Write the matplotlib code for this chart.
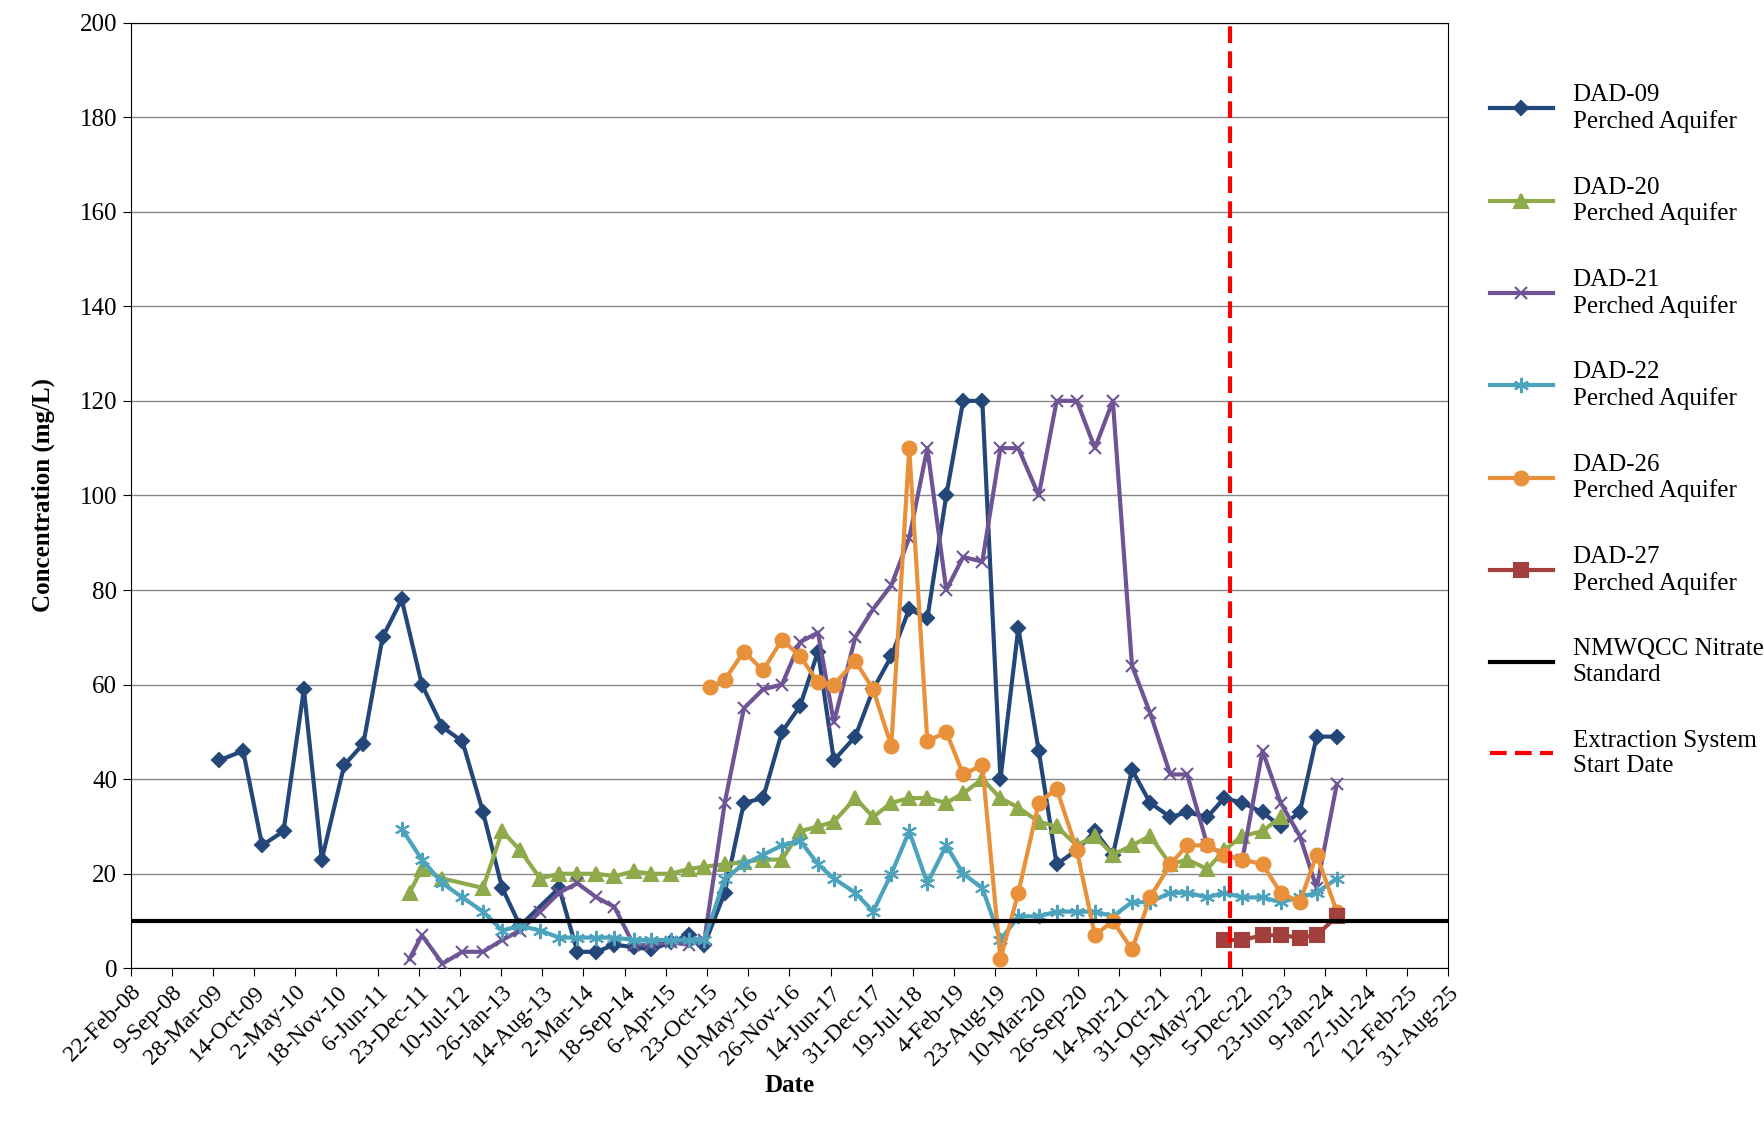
import datetime as dt
import matplotlib.pyplot as plt
from matplotlib.lines import Line2D
from matplotlib.ticker import FixedLocator, FuncFormatter

plt.rcParams['font.family'] = ['Liberation Serif', 'DejaVu Serif']

# dates are days after 22-Feb-2008
base = dt.date(2008, 2, 22)

d09_days = [432, 547, 639, 743, 842, 929, 1038, 1131, 1224, 1317, 1415, 1515, 1612, 1712, 1805, 1892,
            2082, 2170, 2263, 2350, 2443, 2530, 2623, 2711, 2787, 2886, 2979, 3072, 3164, 3252, 3339,
            3416, 3520, 3607, 3695, 3782, 3870, 3962, 4044, 4137, 4225, 4312, 4411, 4498, 4596, 4684,
            4771, 4864, 4952, 5050, 5132, 5230, 5312, 5400, 5498, 5586, 5679, 5761, 5859]
d09_vals = [44, 46, 26, 29, 59, 23, 43, 47.5, 70, 78, 60, 51, 48, 33, 17, 9,
            17, 3.5, 3.5, 5, 4.5, 4, 5.5, 7, 5, 16, 35, 36, 50, 55.5, 67,
            44, 49, 59, 66, 76, 74, 100, 120, 120, 40, 72, 46, 22, 25, 29,
            24, 42, 35, 32, 33, 32, 36, 35, 33, 30, 33, 49, 49]

d20_days = [1355, 1415, 1515, 1712, 1805, 1892, 1989, 2082, 2170, 2263, 2350, 2443, 2530, 2623, 2711,
            2787, 2886, 2979, 3072, 3164, 3252, 3339, 3416, 3520, 3607, 3695, 3782, 3870, 3962, 4044,
            4137, 4225, 4312, 4411, 4498, 4596, 4684, 4771, 4864, 4952, 5050, 5132, 5230, 5312, 5400,
            5498, 5586]
d20_vals = [16, 21, 19, 17, 29, 25, 19, 20, 20, 20, 19.5, 20.5, 20, 20, 21,
            21.5, 22, 22.5, 23, 23, 29, 30, 31, 36, 32, 35, 36, 36, 35, 37,
            40, 36, 34, 31, 30, 26, 28, 24, 26, 28, 22, 23, 21, 25, 28,
            29, 32]

d21_days = [1355, 1415, 1515, 1612, 1712, 1805, 1892, 1989, 2082, 2170, 2263, 2350, 2443, 2530, 2623,
            2711, 2787, 2886, 2979, 3072, 3164, 3252, 3339, 3416, 3520, 3607, 3695, 3782, 3870, 3962,
            4044, 4137, 4225, 4312, 4411, 4498, 4596, 4684, 4771, 4864, 4952, 5050, 5132, 5230, 5312,
            5400, 5498, 5586, 5679, 5761, 5859]
d21_vals = [2, 7, 1, 3.5, 3.5, 6, 8, 12, 16, 18, 15, 13, 5, 5, 5.5,
            5, 6, 35, 55, 59, 60, 69, 71, 52, 70, 76, 81, 91, 110, 80,
            87, 86, 110, 110, 100, 120, 120, 110, 120, 64, 54, 41, 41, 26, 24,
            23, 46, 35, 28, 17, 39]

d22_days = [1317, 1415, 1515, 1612, 1712, 1805, 1892, 1989, 2082, 2170, 2263, 2350, 2443, 2530, 2623,
            2711, 2787, 2886, 2979, 3072, 3164, 3252, 3339, 3416, 3520, 3607, 3695, 3782, 3870, 3962,
            4044, 4137, 4225, 4312, 4411, 4498, 4596, 4684, 4771, 4864, 4952, 5050, 5132, 5230, 5312,
            5400, 5498, 5586, 5679, 5761, 5859]
d22_vals = [29.5, 23, 18, 15, 12, 8, 9, 8, 6.5, 6.5, 6.5, 6.5, 6, 6, 6,
            6, 6, 19, 22, 24, 26, 27, 22, 19, 16, 12, 20, 29, 18, 26,
            20, 17, 6, 11, 11, 12, 12, 12, 11, 14, 14, 16, 16, 15, 16,
            15, 15, 14, 15, 16, 19]

d26_days = [2815, 2886, 2979, 3072, 3164, 3252, 3339, 3416, 3520, 3607, 3695, 3782, 3870, 3962, 4044,
            4137, 4225, 4312, 4411, 4498, 4596, 4684, 4771, 4864, 4952, 5050, 5132, 5230, 5312, 5400,
            5498, 5586, 5679, 5761, 5859]
d26_vals = [59.5, 61, 67, 63, 69.5, 66, 60.5, 60, 65, 59, 47, 110, 48, 50, 41,
            43, 2, 16, 35, 38, 25, 7, 10, 4, 15, 22, 26, 26, 24, 23,
            22, 16, 14, 24, 12]

d27_days = [5312, 5400, 5498, 5586, 5679, 5761, 5859]
d27_vals = [6, 6, 7, 7, 6.5, 7, 11]

standard = 10
start_day = 5340

series = [
    ('DAD-09', d09_days, d09_vals, '#24477A', 'D', 7),
    ('DAD-20', d20_days, d20_vals, '#8FAA4A', '^', 10),
    ('DAD-21', d21_days, d21_vals, '#6E5494', 'x', 9),
    ('DAD-22', d22_days, d22_vals, '#4BA3BD', (6, 2, 0), 11),
    ('DAD-26', d26_days, d26_vals, '#E8913A', 'o', 10),
    ('DAD-27', d27_days, d27_vals, '#A33F3C', 's', 10),
]

fig = plt.figure(figsize=(17.64, 11.26), dpi=100)
ax = fig.add_axes([0.074, 0.14, 0.747, 0.84])

handles = []
for name, xs, ys, col, mk, ms in series:
    ax.plot(xs, ys, color=col, lw=3, marker=mk, ms=ms, mew=1.5, zorder=3)
    handles.append(Line2D([], [], color=col, lw=3, marker=mk, ms=ms, mew=1.5))

ax.axhline(standard, color='black', lw=3, zorder=4)
ax.axvline(start_day, color='#FF0000', lw=3, ls=(0, (4, 2)), zorder=5)
handles.append(Line2D([], [], color='black', lw=3))
handles.append(Line2D([], [], color='#FF0000', lw=3, ls=(0, (4, 2))))
labels = [s[0] + '\nPerched Aquifer' for s in series] + ['NMWQCC Nitrate\nStandard',
                                                         'Extraction System\nStart Date']

ax.set_xlim(0, 6400)
ax.set_ylim(0, 200)
ax.set_yticks(range(0, 201, 20))
ax.grid(axis='y', color='#888888', lw=1)
ax.set_axisbelow(True)
ax.xaxis.set_major_locator(FixedLocator(range(0, 6401, 200)))
ax.xaxis.set_major_formatter(FuncFormatter(
    lambda v, p: (lambda d: f"{d.day}-{d.strftime('%b-%y')}")(base + dt.timedelta(days=int(v)))))
ax.tick_params(axis='x', labelsize=17, rotation=45, direction='out', length=6)
for t in ax.get_xticklabels():
    t.set_ha('right')
    t.set_rotation_mode('anchor')
ax.tick_params(axis='y', labelsize=18, direction='out', length=6)
ax.set_xlabel('Date', fontsize=18, fontweight='bold', labelpad=2)
ax.set_ylabel('Concentration (mg/L)', fontsize=18, fontweight='bold', labelpad=18)

fig.legend(handles, labels, loc='upper left', bbox_to_anchor=(0.832, 0.945), frameon=False,
           fontsize=18, handlelength=2.5, labelspacing=1.75)

fig.savefig('out.png')
